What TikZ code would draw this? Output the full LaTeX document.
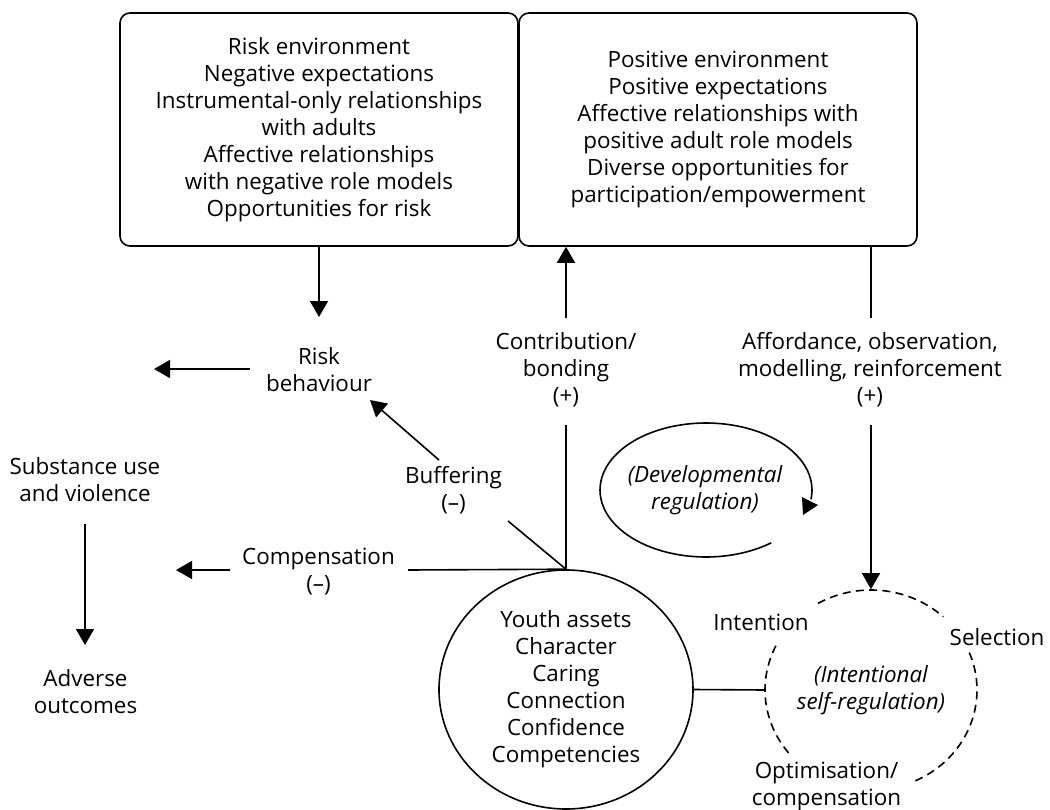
\documentclass[tikz,border=0pt]{standalone}
\usepackage{fontspec}
\setmainfont{Open Sans}
\usetikzlibrary{arrows.meta,shapes.geometric}
\begin{document}
\begin{tikzpicture}[x=0.75pt,y=-0.75pt,
  every node/.style={font=\fontsize{16.8}{20.3}\selectfont, align=center, inner sep=0pt},
  ital/.style={font=\fontsize{16.8}{20.3}\selectfont\itshape},
  line width=1.2pt,
  arr/.style={-{Triangle[width=13.5pt,length=12pt]}},
  box/.style={draw, rounded corners=7.5pt, minimum width=298.5pt, minimum height=174.75pt},
  dsh/.style={dash pattern=on 6pt off 4pt}]
\useasboundingbox (0,0) rectangle (1050,810);

% boxes
\node[box] (lbox) at (319,129.5) {Risk environment\\Negative expectations\\Instrumental-only relationships\\with adults\\Affective relationships\\with negative role models\\Opportunities for risk};
\node[box] (rbox) at (718,129.5) {Positive environment\\Positive expectations\\Affective relationships with\\positive adult role models\\Diverse opportunities for\\participation/empowerment};

% text nodes
\node (rb) at (319,369.5) {Risk\\behaviour};
\node (sub) at (85,479.5) {Substance use\\and violence};
\node (adv) at (85.5,691.5) {Adverse\\outcomes};
\node (buf) at (453.5,490.5) {Buffering\\(–)};
\node (comp) at (318.5,571.5) {Compensation\\(–)};
\node (contr) at (566,369.5) {Contribution/\\bonding\\(+)};
\node (aff) at (870,369.5) {Affordance, observation,\\modelling, reinforcement\\(+)};
\node[ital] (dev) at (705,490) {(Developmental\\regulation)};

% circles
\node[draw, ellipse, minimum width=190.5pt, minimum height=179.25pt] (youth) at (566,689.5) {Youth assets\\Character\\Caring\\Connection\\Confidence\\Competencies};
\node[ellipse, minimum width=159pt, minimum height=150pt, ital] (isr) at (871,690) {(Intentional\\self-regulation)};
\node (intn) at (761,622) {Intention};
\node (sel) at (997,637) {Selection};
\node (opt) at (826.5,786.5) {Optimisation/\\compensation};

% dashed ellipse arcs
\draw[dsh] plot[domain=141:209, samples=30, smooth] ({871+106*cos(\x)},{690+100*sin(\x)});
\draw[dsh] plot[domain=240:313, samples=30, smooth] ({871+106*cos(\x)},{690+100*sin(\x)});
\draw[dsh] plot[domain=338:427, samples=30, smooth] ({871+106*cos(\x)},{690+100*sin(\x)});

% developmental regulation loop
\draw plot[domain=52:368, samples=90, smooth] ({706+106*cos(\x)},{490+67*sin(\x)});
\fill (802,497) -- (818,505) -- (803,515) -- cycle;

% coordinates for connector breaks
\coordinate (rbin) at (319,317);
\coordinate (rbout) at (250,369);
\coordinate (rbtip) at (154,369);
\coordinate (subout) at (85,524);
\coordinate (advin) at (85,645);
\coordinate (b1) at (508,521);
\coordinate (b2) at (439,460);
\coordinate (b3) at (370,400);
\coordinate (k1) at (408,570);
\coordinate (k2) at (230,570);
\coordinate (k3) at (176,570);
\coordinate (c1) at (566,425);
\coordinate (c2) at (566,318);
\coordinate (a1) at (871,318);
\coordinate (a2) at (871,425);

% connectors
\draw[arr] (lbox.south) -- (rbin);
\draw[arr] (rbout) -- (rbtip);
\draw[arr] (subout) -- (advin);
\draw (youth.north) -- (b1);
\draw[arr] (b2) -- (b3);
\draw (youth.north) -- (k1);
\draw[arr] (k2) -- (k3);
\draw (youth.north) -- (c1);
\draw[arr] (c2) -- (c2 |- rbox.south);
\draw (a1 |- rbox.south) -- (a1);
\draw[arr] (a2) -- (isr.north);
\draw (youth.east) -- (isr.west);
\end{tikzpicture}
\end{document}
